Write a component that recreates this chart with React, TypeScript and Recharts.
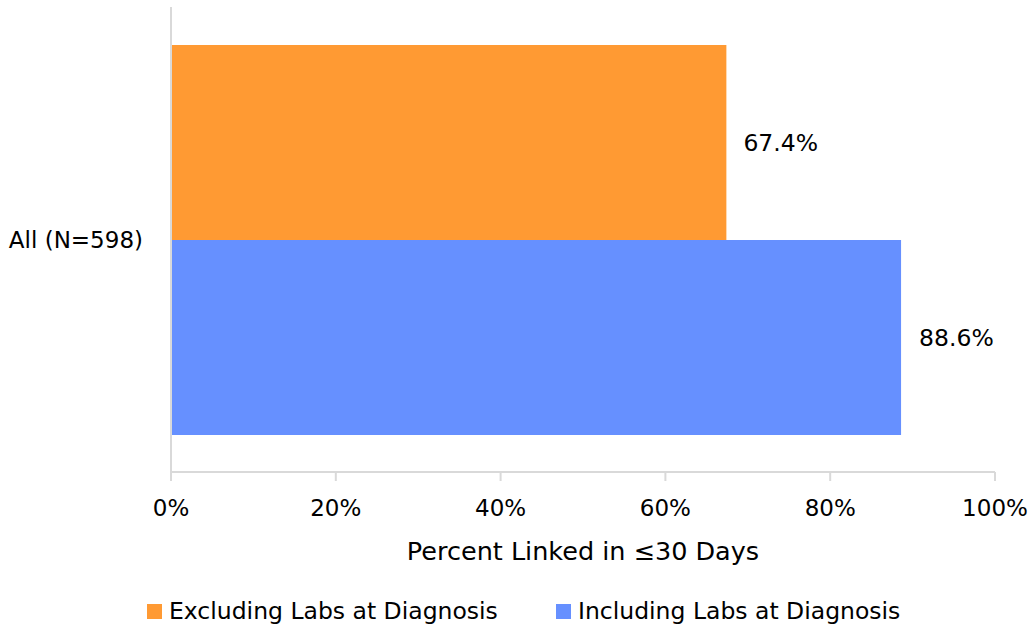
import { Bar, BarChart, LabelList, Legend, XAxis, YAxis } from "recharts";

const categories = ["All (N=598)"];
const excludingLabs = [67.4];
const includingLabs = [88.6];
const seriesNames = ["Excluding Labs at Diagnosis", "Including Labs at Diagnosis"];
const seriesColors = ["#FF9A33", "#6690FF"];
const xTicks = [0, 20, 40, 60, 80, 100];

const data = categories.map((name, i) => ({
  name,
  excluding: excludingLabs[i],
  including: includingLabs[i],
}));

const FONT = "'DejaVu Sans', Verdana, sans-serif";
const AXIS_GRAY = "#D9D9D9";

function ChartLegend() {
  return (
    <div style={{ display: "flex", fontFamily: FONT, fontSize: 23.5, lineHeight: "23px", color: "#000", paddingLeft: 147 }}>
      {seriesNames.map((n, i) => (
        <div key={n} style={{ display: "flex", alignItems: "center", width: i === 0 ? 409 : "auto" }}>
          <span
            style={{
              display: "inline-block",
              width: 15,
              height: 15,
              background: seriesColors[i],
              marginRight: 7,
            }}
          />
          {n}
        </div>
      ))}
    </div>
  );
}

export default function App() {
  return (
    <div style={{ position: "fixed", left: 0, top: 0, background: "#fff" }}>
      <BarChart
        width={1034}
        height={631}
        data={data}
        layout="vertical"
        margin={{ top: 7, right: 39, left: 11, bottom: 99 }}
        barCategoryGap={38}
        barGap={0}
      >
        <XAxis
          type="number"
          domain={[0, 100]}
          ticks={xTicks}
          tickFormatter={(v: number) => `${v}%`}
          stroke={AXIS_GRAY}
          strokeWidth={2}
          tickSize={9}
          tickMargin={19}
          height={60}
          tick={{ fill: "#000", fontSize: 23, fontFamily: FONT }}
          label={{
            value: "Percent Linked in ≤30 Days",
            position: "bottom",
            offset: 10,
            fill: "#000",
            fontSize: 25.5,
            fontFamily: FONT,
          }}
        />
        <YAxis
          type="category"
          dataKey="name"
          width={160}
          stroke={AXIS_GRAY}
          strokeWidth={2}
          tickLine={false}
          tickSize={0}
          tickMargin={28}
          tick={{ fill: "#000", fontSize: 23, fontFamily: FONT }}
        />
        <Legend
          verticalAlign="middle"
          align="center"
          content={<ChartLegend />}
          wrapperStyle={{ position: "absolute", top: 600, left: 0, width: 1034 }}
        />
        <Bar dataKey="excluding" name={seriesNames[0]} fill={seriesColors[0]} isAnimationActive={false}>
          <LabelList
            dataKey="excluding"
            position="right"
            offset={17}
            formatter={(v: number) => `${v}%`}
            fill="#000"
            fontSize={23.5}
            fontFamily={FONT}
          />
        </Bar>
        <Bar dataKey="including" name={seriesNames[1]} fill={seriesColors[1]} isAnimationActive={false}>
          <LabelList
            dataKey="including"
            position="right"
            offset={18}
            formatter={(v: number) => `${v}%`}
            fill="#000"
            fontSize={23.5}
            fontFamily={FONT}
          />
        </Bar>
      </BarChart>
    </div>
  );
}
